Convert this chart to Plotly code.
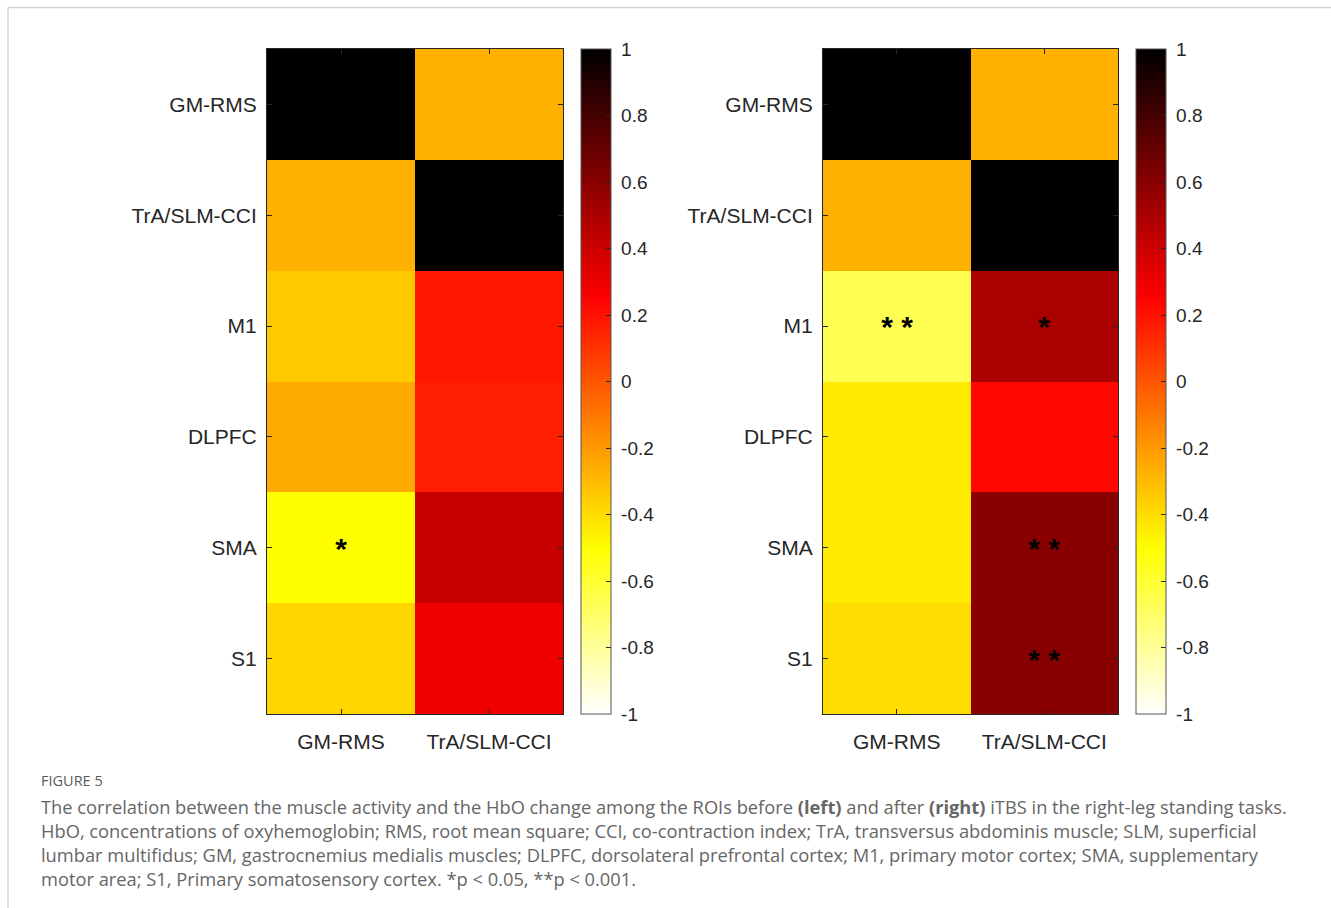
import plotly.graph_objects as go

W, H = 1331, 908

# ROI / muscle labels
rows = ["GM-RMS", "TrA/SLM-CCI", "M1", "DLPFC", "SMA", "S1"]
cols = ["GM-RMS", "TrA/SLM-CCI"]

# correlation coefficients, before iTBS (left panel)
before_gm = [1.00, -0.27, -0.34, -0.25, -0.50, -0.38]
before_tra = [-0.27, 1.00, 0.18, 0.16, 0.41, 0.29]
# correlation coefficients, after iTBS (right panel)
after_gm = [1.00, -0.27, -0.66, -0.44, -0.44, -0.40]
after_tra = [-0.27, 1.00, 0.50, 0.23, 0.60, 0.60]

# significance markers (* p < 0.05, ** p < 0.001)
before_sig_gm = ["", "", "", "", "*", ""]
before_sig_tra = ["", "", "", "", "", ""]
after_sig_gm = ["", "", "* *", "", "", ""]
after_sig_tra = ["", "", "*", "", "* *", "* *"]

cbar_ticks = [1, 0.8, 0.6, 0.4, 0.2, 0, -0.2, -0.4, -0.6, -0.8, -1]
cbar_text = ["1", "0.8", "0.6", "0.4", "0.2", "0", "-0.2", "-0.4", "-0.6", "-0.8", "-1"]

caption_title = "FIGURE 5"
caption_lines = [
    "The correlation between the muscle activity and the HbO change among the ROIs before <b>(left)</b> "
    "and after <b>(right)</b> iTBS in the right-leg standing tasks.",
    "HbO, concentrations of oxyhemoglobin; RMS, root mean square; CCI, co-contraction index; TrA, "
    "transversus abdominis muscle; SLM, superficial",
    "lumbar multifidus; GM, gastrocnemius medialis muscles; DLPFC, dorsolateral prefrontal cortex; "
    "M1, primary motor cortex; SMA, supplementary",
    "motor area; S1, Primary somatosensory cortex. *p &lt; 0.05, **p &lt; 0.001.",
]

# reversed "hot" colormap: white -> yellow -> red -> black
hot_r = [
    [0.0, "rgb(255,255,255)"],
    [0.25, "rgb(255,255,0)"],
    [0.625, "rgb(255,0,0)"],
    [1.0, "rgb(0,0,0)"],
]

AX_FONT = dict(family="Liberation Sans, Arial, sans-serif", size=21, color="#262626")
CB_FONT = dict(family="Liberation Sans, Arial, sans-serif", size=19, color="#262626")

# pixel geometry of the two panels
top_px, bot_px = 49, 714
panels = [
    dict(x0=267, x1=563, cb=581, gm=before_gm, tra=before_tra, s1=before_sig_gm, s2=before_sig_tra),
    dict(x0=823, x1=1118, cb=1136, gm=after_gm, tra=after_tra, s1=after_sig_gm, s2=after_sig_tra),
]

fig = go.Figure()
for i, p in enumerate(panels):
    z = [[a, b] for a, b in zip(p["gm"], p["tra"])]
    txt = [[a, b] for a, b in zip(p["s1"], p["s2"])]
    sfx = "" if i == 0 else "2"
    fig.add_trace(go.Heatmap(
        z=z, x=cols, y=rows, text=txt, texttemplate="%{text}",
        textfont=dict(family="Liberation Sans, Arial, sans-serif", size=30, color="black", weight="bold"),
        colorscale=hot_r, zmin=-1, zmax=1,
        xaxis="x" + sfx, yaxis="y" + sfx,
        colorbar=dict(
            x=p["cb"] / W, xanchor="left", xpad=0,
            y=1 - top_px / H, yanchor="top", ypad=0,
            len=(bot_px - top_px) / H, lenmode="fraction",
            thickness=30, outlinewidth=1, outlinecolor="#555555",
            tickvals=cbar_ticks, ticktext=["\u00a0" + t for t in cbar_text],
            ticks="inside", ticklen=5, tickcolor="#262626", tickfont=CB_FONT,
        ),
    ))

    xa = dict(domain=[p["x0"] / W, p["x1"] / W], anchor="y" + sfx, showline=True, linecolor="#262626",
              linewidth=1, mirror="ticks", ticks="inside", ticklen=5, tickcolor="#262626",
              tickfont=AX_FONT, ticklabelstandoff=9, showgrid=False, zeroline=False, fixedrange=True)
    ya = dict(domain=[1 - bot_px / H, 1 - top_px / H], anchor="x" + sfx, autorange="reversed",
              showline=True, linecolor="#262626", linewidth=1, mirror="ticks", ticks="inside",
              ticklen=5, tickcolor="#262626", tickfont=AX_FONT, ticklabelstandoff=5,
              showgrid=False, zeroline=False, fixedrange=True)
    fig.update_layout(**{"xaxis" + sfx: xa, "yaxis" + sfx: ya})

annotations = [dict(
    text=caption_title, xref="paper", yref="paper", x=39 / W, y=1 - 780 / H,
    xanchor="left", yanchor="middle", showarrow=False,
    font=dict(family="Open Sans, sans-serif", size=14.5, color="#5a5a5a"),
)]
for k, line in enumerate(caption_lines):
    annotations.append(dict(
        text=line, xref="paper", yref="paper", x=39 / W, y=1 - (806 + 24.3 * k) / H,
        xanchor="left", yanchor="middle", showarrow=False,
        font=dict(family="Open Sans, sans-serif", size=18.3, color="#666666"),
    ))

# light frame around the figure block
shapes = [
    dict(type="line", xref="paper", yref="paper", x0=8 / W, x1=1.0, y0=1 - 7.5 / H, y1=1 - 7.5 / H,
         line=dict(color="#d4d4d4", width=1.5)),
    dict(type="line", xref="paper", yref="paper", x0=8 / W, x1=8 / W, y0=0, y1=1 - 7.5 / H,
         line=dict(color="#d4d4d4", width=1.5)),
]

fig.update_layout(
    width=W, height=H, margin=dict(l=0, r=0, t=0, b=0),
    paper_bgcolor="white", plot_bgcolor="white",
    annotations=annotations, shapes=shapes, showlegend=False,
)

fig.write_html("out.html")
